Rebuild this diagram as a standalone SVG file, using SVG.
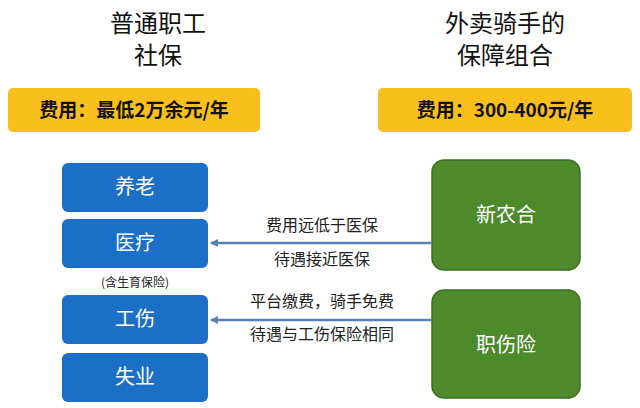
<svg xmlns="http://www.w3.org/2000/svg" width="640" height="408" viewBox="0 0 640 408">
<style>
text{font-family:"Noto Sans CJK SC","Noto Sans",sans-serif;text-anchor:middle}
.t{font-size:24px;fill:#111}
.o{fill:#f9bf1c}
.ot{font-size:19px;font-weight:bold;fill:#111}
.b{fill:#1c6fc6}
.g{fill:#4d8a2c;stroke:#3e6e22;stroke-width:1.5}
.w{fill:#fff;font-size:20px}
.l{font-size:16px;fill:#222}
.c{stroke:#5a7fb5;stroke-width:2.5;fill:none}
</style>
<defs><marker id="a" markerWidth="8" markerHeight="8" refX="7" refY="4" orient="auto" markerUnits="userSpaceOnUse"><path d="M0,0L8,4L0,8z" fill="#5a7fb5"/></marker></defs>
<rect width="640" height="408" fill="#fff"/>
<g id="titleL"><text class="t" x="158" y="32">普通职工</text><text class="t" x="158" y="64">社保</text></g>
<g id="titleR"><text class="t" x="505" y="32">外卖骑手的</text><text class="t" x="505" y="64">保障组合</text></g>
<g id="costL"><rect class="o" x="8" y="88" width="252" height="44" rx="5"/><text class="ot" x="134" y="117">费用：最低2万余元/年</text></g>
<g id="costR"><rect class="o" x="378" y="88" width="254" height="44" rx="5"/><text class="ot" x="505" y="117">费用：300-400元/年</text></g>
<g id="yanglao"><rect class="b" x="62" y="163" width="146" height="49" rx="6"/><text class="w" x="135" y="194">养老</text></g>
<g id="yiliao"><rect class="b" x="62" y="219" width="146" height="49" rx="6"/><text class="w" x="135" y="250">医疗</text></g>
<g id="note"><text x="135" y="287" style="font-size:12px;fill:#222">(含生育保险)</text></g>
<g id="gongshang"><rect class="b" x="62" y="295" width="146" height="49" rx="6"/><text class="w" x="135" y="326">工伤</text></g>
<g id="shiye"><rect class="b" x="62" y="353" width="146" height="49" rx="6"/><text class="w" x="135" y="384">失业</text></g>
<g id="xinnonghe"><rect class="g" x="432" y="160" width="148" height="110" rx="12"/><text class="w" x="506" y="222">新农合</text></g>
<g id="zhishangxian"><rect class="g" x="432" y="290" width="148" height="108" rx="12"/><text class="w" x="506" y="352">职伤险</text></g>
<g id="connectors">
<line class="c" x1="432" y1="243" x2="211" y2="243" marker-end="url(#a)"/>
<line class="c" x1="432" y1="320" x2="211" y2="320" marker-end="url(#a)"/>
<text class="l" x="322" y="231">费用远低于医保</text>
<text class="l" x="322" y="265">待遇接近医保</text>
<text class="l" x="322" y="307">平台缴费，骑手免费</text>
<text class="l" x="322" y="340">待遇与工伤保险相同</text>
</g>
</svg>
